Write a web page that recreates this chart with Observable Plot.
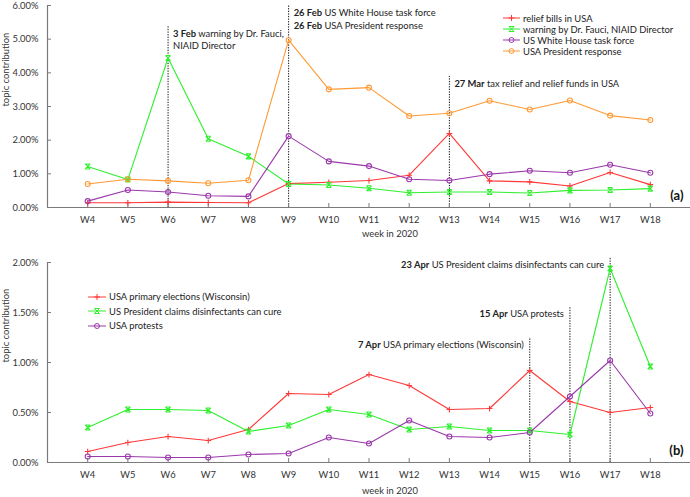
<!DOCTYPE html>
<html><head><meta charset="utf-8">
<script src="https://cdn.jsdelivr.net/npm/d3@7"></script>
<script src="https://cdn.jsdelivr.net/npm/@observablehq/plot@0.6"></script>
<style>
body{margin:0;background:#fff;font-family:Lato,sans-serif;}
.panel{position:relative;width:690px;}
.panel svg{overflow:visible;}
.legend{position:absolute;font-size:9.4px;color:#222;}
.legend .row{display:flex;align-items:center;white-space:nowrap;}
.legend .row svg{flex:none;}
</style></head><body>
<div id="a" class="panel"></div>
<div id="b" class="panel"></div>
<script>
// ---------- data ----------
const weeks = [4,5,6,7,8,9,10,11,12,13,14,15,16,17,18];
const weekLabels = weeks.map(w => "W" + w);

// panel (a)
const seriesA = ["relief bills in USA", "warning by Dr. Fauci, NIAID Director", "US White House task force", "USA President response"];
const reliefBills   = [0.14,0.14,0.16,0.15,0.14,0.71,0.75,0.80,0.96,2.20,0.79,0.76,0.64,1.04,0.68];
const fauciWarning  = [1.22,0.83,4.44,2.04,1.52,0.70,0.67,0.57,0.44,0.46,0.46,0.43,0.51,0.52,0.56];
const whiteHouse    = [0.19,0.52,0.46,0.35,0.33,2.12,1.37,1.23,0.84,0.80,0.99,1.09,1.03,1.27,1.03];
const presidentResp = [0.70,0.84,0.79,0.72,0.81,4.97,3.51,3.56,2.72,2.80,3.17,2.91,3.18,2.73,2.60];
const valuesA = [reliefBills, fauciWarning, whiteHouse, presidentResp];
const annWeeksA = [6, 9, 13];
const annTopsA = [5.38, 6.0, 3.89];
const annTextA = ["3 Feb warning by Dr. Fauci,\nNIAID Director", "26 Feb US White House task force\n26 Feb USA President response", "27 Mar tax relief and relief funds in USA"];

// panel (b)
const seriesB = ["USA primary elections (Wisconsin)", "US President claims disinfectants can cure", "USA protests"];
const primaryElections = [0.11,0.20,0.26,0.22,0.33,0.69,0.68,0.88,0.77,0.53,0.54,0.92,0.61,0.50,0.55];
const disinfectants    = [0.35,0.53,0.53,0.52,0.31,0.37,0.53,0.48,0.33,0.36,0.32,0.32,0.28,1.94,0.96];
const protests         = [0.06,0.06,0.05,0.05,0.08,0.09,0.25,0.19,0.42,0.26,0.25,0.30,0.66,1.02,0.49];
const valuesB = [primaryElections, disinfectants, protests];
const annWeeksB = [17, 16, 15];
const annTopsB = [2.05, 1.56, 1.25];
const annTextB = ["23 Apr US President claims disinfectants can cure", "15 Apr USA protests", "7 Apr USA primary elections (Wisconsin)"];

// ---------- styles ----------
const RED = "#ff3838", GREEN = "#2ef02e", PURPLE = "#9b38ab", ORANGE = "#ff9a36";
const AXIS = "#7a7a7a";
const FS = 9.4;

const hourglass = {
  draw(ctx, size) {
    const s = Math.sqrt(size / Math.PI);
    ctx.moveTo(-s, -s); ctx.lineTo(s, s);
    ctx.moveTo(s, -s); ctx.lineTo(-s, s);
    ctx.moveTo(-s, -s); ctx.lineTo(s, -s);
    ctx.moveTo(-s, s); ctx.lineTo(s, s);
  }
};
const plusSym = {
  draw(ctx, size) {
    const s = Math.sqrt(size / Math.PI) * 1.15;
    ctx.moveTo(-s, 0); ctx.lineTo(s, 0);
    ctx.moveTo(0, -s); ctx.lineTo(0, s);
  }
};

function boldDates(svg) {
  const ns = "http://www.w3.org/2000/svg";
  svg.querySelectorAll("text, tspan").forEach(el => {
    if (el.childNodes.length === 1 && el.firstChild.nodeType === 3) {
      const m = el.textContent.match(/^(\d+ (?:Feb|Mar|Apr)) (.*)$/);
      if (m) {
        el.textContent = "";
        const b = document.createElementNS(ns, "tspan");
        b.setAttribute("font-weight", "bold");
        b.textContent = m[1];
        el.appendChild(b);
        el.appendChild(document.createTextNode(" " + m[2]));
      }
    }
  });
}

function legendSymbol(kind, color, w) {
  const c = w / 2;
  let m = "";
  if (kind === "plus") m = `<path d="M${c-3},4H${c+3}M${c},1V7" stroke="${color}" fill="none"/>`;
  else if (kind === "hourglass") m = `<path d="M${c-2.5},1.5L${c+2.5},6.5M${c+2.5},1.5L${c-2.5},6.5M${c-2.5},1.5H${c+2.5}M${c-2.5},6.5H${c+2.5}" stroke="${color}" fill="none"/>`;
  else m = `<circle cx="${c}" cy="4" r="2.5" stroke="${color}" fill="none"/>`;
  return `<svg width="${w+3}" height="8"><line x1="0" x2="${w}" y1="4" y2="4" stroke="${color}"/>${m}</svg>`;
}

function makePanel({el, names, values, colors, symbols, yMax, yTicks, height, marginTop, marginBottom, ann, annAnchor, annDx, tag, xLabelDy, legend}) {
  const rows = [];
  names.forEach((n, i) => values[i].forEach((v, j) => rows.push({week: weeks[j], value: v, series: n})));
  const annRows = ann.weeks.map((w, i) => ({week: w, top: ann.tops[i], text: ann.texts[i]}));
  const marks = [
    Plot.ruleX(annRows, {x: "week", y1: 0, y2: "top", stroke: "#111", strokeWidth: 1, strokeDasharray: "1.3,1.3"}),
    Plot.text(annRows, {x: "week", y: "top", text: "text", textAnchor: annAnchor, lineAnchor: "top", dx: annDx, dy: 1.5, fontSize: FS, lineHeight: 1.34, fill: "#222"}),
    Plot.ruleY([0], {stroke: AXIS, strokeWidth: 1.2}),
    Plot.ruleX([3], {stroke: AXIS, strokeWidth: 1.2}),
    Plot.axisX({ticks: weeks, tickFormat: d => "W" + d, tickSize: 0, tickPadding: 9, fontSize: FS, fill: "#333", label: null}),
    Plot.axisX({ticks: weeks, tickSize: 4, text: null, dy: -4, stroke: AXIS, label: null}),
    Plot.axisY({ticks: yTicks, tickFormat: d => d.toFixed(2) + "%", tickSize: 0, tickPadding: 9, fontSize: FS, fill: "#333", label: null}),
    Plot.axisY({ticks: yTicks, tickSize: 4, text: null, dx: 4, stroke: AXIS, label: null}),
    Plot.text(["week in 2020"], {frameAnchor: "bottom", dx: 21, dy: xLabelDy, lineAnchor: "middle", fontSize: FS, fill: "#333"}),
    Plot.text(["topic contribution"], {frameAnchor: "left", dx: -42, rotate: -90, fontSize: FS, fill: "#333"}),
    Plot.text([tag], {frameAnchor: "bottom-right", textAnchor: "end", lineAnchor: "middle", dx: -7, dy: -12, fontSize: 13, fontWeight: "bold", fill: "#111"})
  ];
  names.forEach((n, i) => {
    const d = rows.filter(r => r.series === n);
    marks.push(Plot.line(d, {x: "week", y: "value", stroke: colors[i], strokeWidth: 1.1}));
  });
  names.forEach((n, i) => {
    const d = rows.filter(r => r.series === n);
    marks.push(Plot.dot(d, {x: "week", y: "value", stroke: colors[i], fill: "none", r: 2.5, strokeWidth: 1.1, symbol: symbols[i]}));
  });
  const chart = Plot.plot({
    width: 690, height, marginLeft: 47, marginRight: 0, marginTop, marginBottom,
    x: {domain: [3, 19], axis: null},
    y: {domain: [0, yMax], axis: null},
    style: {fontFamily: "Lato, sans-serif", background: "#fff", overflow: "visible"},
    marks
  });
  boldDates(chart);
  const host = document.getElementById(el);
  host.appendChild(chart);
  const lg = document.createElement("div");
  lg.className = "legend";
  lg.style.left = legend.left + "px";
  lg.style.top = legend.top + "px";
  names.forEach((n, i) => {
    const r = document.createElement("div");
    r.className = "row";
    r.style.height = legend.rowH + "px";
    r.innerHTML = legendSymbol(legend.kinds[i], colors[i], legend.lineW) + `<span>${n}</span>`;
    lg.appendChild(r);
  });
  host.appendChild(lg);
}

makePanel({
  el: "a", names: seriesA, values: valuesA, colors: [RED, GREEN, PURPLE, ORANGE],
  symbols: [plusSym, hourglass, "circle", "circle"], yMax: 6, yTicks: [0,1,2,3,4,5,6],
  height: 240, marginTop: 5, marginBottom: 33,
  ann: {weeks: annWeeksA, tops: annTopsA, texts: annTextA}, annAnchor: "start", annDx: 5, tag: "(a)", xLabelDy: 26,
  legend: {left: 503, top: 12.8, rowH: 11, lineW: 17, kinds: ["plus", "hourglass", "circle", "circle"]}
});
makePanel({
  el: "b", names: seriesB, values: valuesB, colors: [RED, GREEN, PURPLE],
  symbols: [plusSym, hourglass, "circle"], yMax: 2, yTicks: [0,0.5,1,1.5,2],
  height: 257, marginTop: 22, marginBottom: 35,
  ann: {weeks: annWeeksB, tops: annTopsB, texts: annTextB}, annAnchor: "end", annDx: -6, tag: "(b)", xLabelDy: 28,
  legend: {left: 88, top: 49.5, rowH: 14.5, lineW: 18, kinds: ["plus", "hourglass", "circle"]}
});
</script>
</body></html>
